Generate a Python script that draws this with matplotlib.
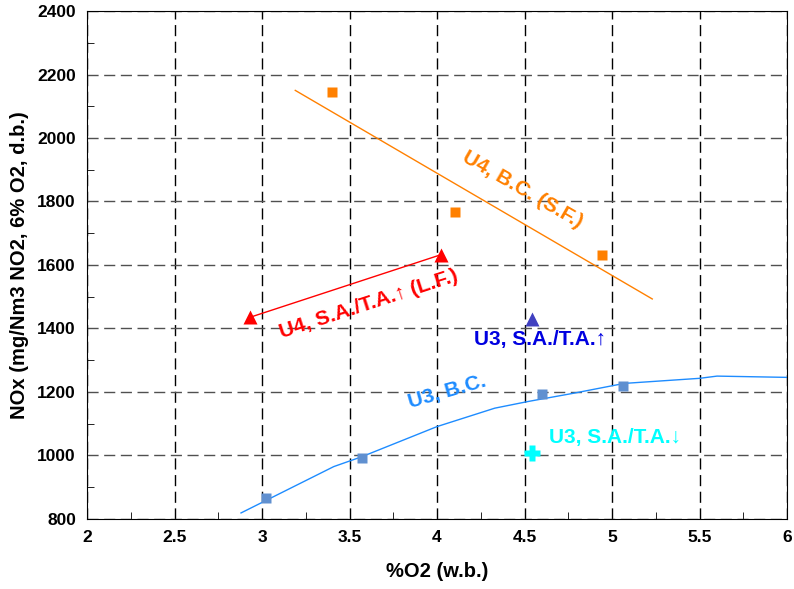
import matplotlib.pyplot as plt
from matplotlib.ticker import MultipleLocator

plt.rcParams['font.family'] = ['Liberation Sans', 'DejaVu Sans']
plt.rcParams['font.weight'] = 'bold'
plt.rcParams['axes.labelweight'] = 'bold'

# -----------------------
# DATA
# -----------------------
# U4, B.C. (S.F.)
u4_bc_x = [3.40, 4.10, 4.94]
u4_bc_y = [2146, 1767, 1632]
u4_bc_fit_x = [3.19, 5.23]
u4_bc_fit_y = [2150, 1493]

# U4, S.A./T.A. up (L.F.)
u4_sa_x = [2.93, 4.02]
u4_sa_y = [1435, 1632]

# U3, S.A./T.A. up
u3_up_x = [4.54]
u3_up_y = [1430]

# U3, S.A./T.A. down
u3_dn_x = [4.54]
u3_dn_y = [1007]

# U3, B.C.
u3_bc_x = [3.02, 3.57, 4.60, 5.06]
u3_bc_y = [866, 992, 1193, 1219]
u3_fit_x = [2.88, 3.41, 3.57, 4.0, 4.33, 4.52, 4.78, 5.07, 5.5, 5.6, 6.0]
u3_fit_y = [819, 965, 996, 1091, 1149, 1170, 1196, 1227, 1243, 1250, 1246]

x_ticks = [2, 2.5, 3, 3.5, 4, 4.5, 5, 5.5, 6]
x_ticklabels = ['2', '2.5', '3', '3.5', '4', '4.5', '5', '5.5', '6']

# -----------------------
# PLOT
# -----------------------
fig = plt.figure(figsize=(7.94, 5.89), dpi=100)
ax = fig.add_axes([0.1096, 0.1189, 0.8816, 0.8624])

ax.plot(u4_bc_fit_x, u4_bc_fit_y, color='#ff8000', lw=1)
ax.plot(u4_bc_x, u4_bc_y, 's', color='#ff8000', ms=6.5, mec='none')

ax.plot(u4_sa_x, u4_sa_y, color='red', lw=1)
ax.plot(u4_sa_x, u4_sa_y, '^', color='red', ms=10, mec='none')

ax.plot(u3_up_x, u3_up_y, '^', color='#4040c0', ms=10, mec='none')
ax.plot(u3_dn_x, u3_dn_y, 'P', color='cyan', ms=11, mec='none')

ax.plot(u3_fit_x, u3_fit_y, color='#1e8cff', lw=1)
ax.plot(u3_bc_x, u3_bc_y, 's', color='#6090d0', ms=7, mec='none')

# labels
fs = 15
ax.text(4.49, 1836, "U4, B.C. (S.F.)", color='#ff8000', fontsize=fs,
        fontweight='bold', rotation=-30, ha='center', va='center')
ax.text(3.61, 1478, "U4, S.A./T.A.\u2191 (L.F.)", color='red', fontsize=fs,
        fontweight='bold', rotation=18, ha='center', va='center')
ax.text(4.59, 1364, "U3, S.A./T.A.\u2191", color='#0000e0', fontsize=fs,
        fontweight='bold', ha='center', va='center')
ax.text(4.06, 1200, "U3, B.C.", color='#1e8cff', fontsize=fs,
        fontweight='bold', rotation=16, ha='center', va='center')
ax.text(5.02, 1058, "U3, S.A./T.A.\u2193", color='cyan', fontsize=fs,
        fontweight='bold', ha='center', va='center')

ax.set_xlim(2, 6)
ax.set_ylim(800, 2400)
ax.xaxis.set_minor_locator(MultipleLocator(0.25))
ax.yaxis.set_major_locator(MultipleLocator(200))
ax.yaxis.set_minor_locator(MultipleLocator(100))
ax.set_xticks(x_ticks)
ax.set_xticklabels(x_ticklabels)
for lab in ax.get_xticklabels() + ax.get_yticklabels():
    lab.set_fontweight('bold')
ax.tick_params(which='both', direction='in', labelsize=12.5)
ax.tick_params(which='major', length=0, pad=8)
ax.tick_params(which='minor', length=5)

ax.grid(True, axis='x', which='major', color='black', ls=(0, (8, 4)), lw=1)
ax.grid(True, axis='y', which='major', color='#505050', ls=(0, (8, 4)), lw=1)
ax.set_axisbelow(True)

ax.set_xlabel("%O2 (w.b.)", fontsize=14.5, fontweight='bold', labelpad=12)
ax.set_ylabel("NOx (mg/Nm3 NO2, 6% O2, d.b.)", fontsize=14.5,
              fontweight='bold', labelpad=6)

plt.savefig("out.png", dpi=100)
plt.close()
